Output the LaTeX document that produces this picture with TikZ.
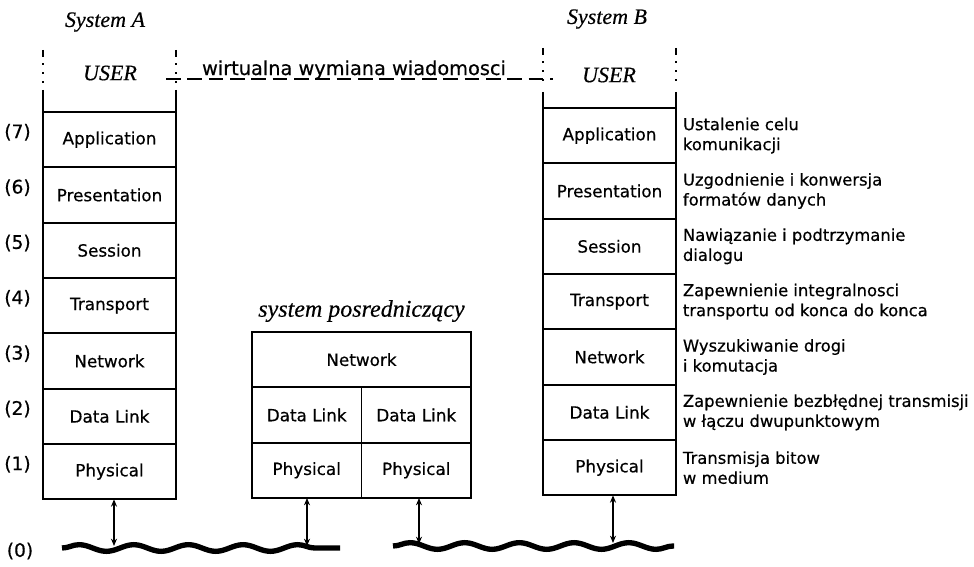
\documentclass[tikz,border=0pt]{standalone}
\usepackage{fontspec}
\newfontfamily\isofont[FakeBold=0.5]{DejaVu Sans}
\newfontfamily\titlefont[FakeBold=0.4]{Liberation Serif}
\usetikzlibrary{positioning, decorations.pathmorphing, arrows.meta}

\begin{document}
\begin{tikzpicture}[x=0.75pt, y=-0.75pt,
layer/.style={rectangle, draw=black, line width=1.4pt, outer sep=0pt, inner sep=0pt, minimum width=99.75pt, minimum height=41.5pt, font=\isofont\fontsize{12.6}{14}\selectfont},
halflayer/.style={layer, minimum width=82.1pt},
widelayer/.style={layer, minimum width=164.25pt},
lnum/.style={inner sep=0pt, font=\isofont\fontsize{14}{16}\selectfont},
duty/.style={inner sep=0pt, anchor=west, align=left, font=\isofont\fontsize{12.3}{15}\selectfont},
title/.style={inner sep=0pt, font=\titlefont\itshape\fontsize{16.5}{19}\selectfont},
midtitle/.style={inner sep=0pt, font=\titlefont\itshape\fontsize{18}{21}\selectfont},
virttext/.style={inner sep=0pt, anchor=base, font=\isofont\fontsize{14.5}{17}\selectfont},
side/.style={line width=1.4pt},
dotside/.style={line width=1.4pt, dash pattern=on 5pt off 5pt on 1.2pt off 5.5pt on 1.2pt off 5.5pt on 1.2pt off 6pt},
virtual/.style={line width=1pt, dash pattern=on 11pt off 5pt},
medium/.style={line width=4pt, decorate, decoration={snake, segment length=41pt, amplitude=2.5pt}},
link/.style={line width=1.2pt, {Stealth[length=5.5pt, width=4.5pt]}-{Stealth[length=5.5pt, width=4.5pt]}},
]
\useasboundingbox (0,0) rectangle (974,567);

% system A
\node[layer] (AApp) at (109.5,139.65) {Application};
\node[layer, below=0pt of AApp] (APre) {Presentation};
\node[layer, below=0pt of APre] (ASes) {Session};
\node[layer, below=0pt of ASes] (ATra) {Transport};
\node[layer, below=0pt of ATra] (ANet) {Network};
\node[layer, below=0pt of ANet] (ADat) {Data Link};
\node[layer, below=0pt of ADat] (APhy) {Physical};

\node[lnum, left=9pt of AApp.west, yshift=5.5pt] (L7) {(7)};
\node[lnum, left=9pt of APre.west, yshift=5.5pt] (L6) {(6)};
\node[lnum, left=9pt of ASes.west, yshift=5.5pt] (L5) {(5)};
\node[lnum, left=9pt of ATra.west, yshift=5.5pt] (L4) {(4)};
\node[lnum, left=9pt of ANet.west, yshift=5.5pt] (L3) {(3)};
\node[lnum, left=9pt of ADat.west, yshift=5.5pt] (L2) {(2)};
\node[lnum, left=9pt of APhy.west, yshift=5.5pt] (L1) {(1)};
\node[lnum] (L0) at (20,551) {(0)};

\node[title] (SysA) at (105,22) {System A};
\node[title] (UsrA) at (110,73) {USER};

% system B
\node[layer] (BApp) at (609.5,135.65) {Application};
\node[layer, below=0pt of BApp] (BPre) {Presentation};
\node[layer, below=0pt of BPre] (BSes) {Session};
\node[layer, below=0pt of BSes] (BTra) {Transport};
\node[layer, below=0pt of BTra] (BNet) {Network};
\node[layer, below=0pt of BNet] (BDat) {Data Link};
\node[layer, below=0pt of BDat] (BPhy) {Physical};

\node[title] (SysB) at (607,19) {System B};
\node[title] (UsrB) at (609,75) {USER};

\node[duty, right=5pt of BApp] (DApp) {Ustalenie celu\\komunikacji};
\node[duty, right=5pt of BPre] (DPre) {Uzgodnienie i konwersja\\formatów danych};
\node[duty, right=5pt of BSes] (DSes) {Nawiązanie i podtrzymanie\\dialogu};
\node[duty, right=5pt of BTra] (DTra) {Zapewnienie integralnosci\\transportu od konca do konca};
\node[duty, right=5pt of BNet] (DNet) {Wyszukiwanie drogi\\i komutacja};
\node[duty, right=5pt of BDat] (DDat) {Zapewnienie bezbłędnej transmisji\\w łączu dwupunktowym};
\node[duty, right=5pt of BPhy] (DPhy) {Transmisja bitow\\w medium};

% system posredniczacy
\node[widelayer] (MNet) at (361.5,359.65) {Network};
\node[halflayer, below right=0pt and 0pt of MNet.south west] (MDatL) {Data Link};
\node[halflayer, below left=0pt and 0pt of MNet.south east] (MDatR) {Data Link};
\node[halflayer, below=0pt of MDatL] (MPhyL) {Physical};
\node[halflayer, below=0pt of MDatR] (MPhyR) {Physical};
\node[midtitle] (SysM) at (361.5,311) {system posredniczący};

% USER columns
\coordinate (AsL) at ([yshift=16.5pt]AApp.north west);
\coordinate (AsR) at ([yshift=16.5pt]AApp.north east);
\coordinate (BsL) at ([yshift=12pt]BApp.north west);
\coordinate (BsR) at ([yshift=12pt]BApp.north east);
\draw[side] (AsL) -- (AApp.north west);
\draw[side] (AsR) -- (AApp.north east);
\draw[side] (BsL) -- (BApp.north west);
\draw[side] (BsR) -- (BApp.north east);
\draw[dotside] ([yshift=30pt]AsL) -- ([yshift=3pt]AsL);
\draw[dotside] ([yshift=30pt]AsR) -- ([yshift=3pt]AsR);
\draw[dotside] ([yshift=33pt]BsL) -- ([yshift=3pt]BsL);
\draw[dotside] ([yshift=33pt]BsR) -- ([yshift=3pt]BsR);

% virtual exchange
\node[virttext] (Virt) at (354,75) {wirtualna wymiana wiadomosci};
\coordinate (VirtL) at (166,79);
\coordinate (VirtR) at (553,79);
\draw[virtual] (VirtL) -- (VirtR);

% medium
\coordinate (W1a) at (62,548);
\coordinate (W1b) at (340,548);
\coordinate (W2a) at (393,546);
\coordinate (W2b) at (674,546);
\draw[medium] (W1a) -- (W1b);
\draw[medium] (W2a) -- (W2b);

\coordinate (TA) at (114,546);
\coordinate (TML) at (307,546);
\coordinate (TMR) at (419,544);
\coordinate (TB) at (613,543);
\draw[link] (APhy.south -| TA) -- (TA);
\draw[link] (MPhyL.south -| TML) -- (TML);
\draw[link] (MPhyR.south -| TMR) -- (TMR);
\draw[link] (BPhy.south -| TB) -- (TB);
\end{tikzpicture}
\end{document}
